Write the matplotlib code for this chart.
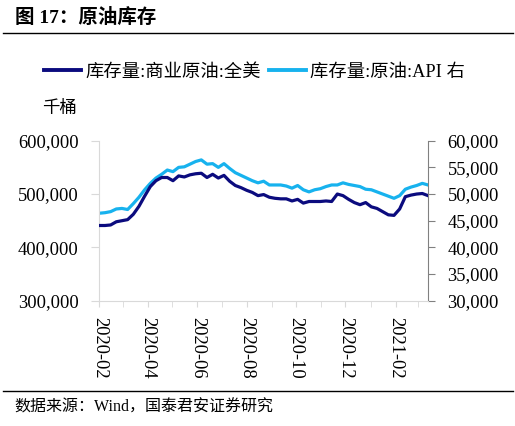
import matplotlib.pyplot as plt
import matplotlib.dates as mdates
import matplotlib.lines as mlines
import numpy as np
import pandas as pd

plt.rcParams['font.family'] = ['Liberation Serif', 'Noto Sans CJK SC']

# semanas (una por viernes aprox.)
fechas = pd.date_range('2020-02-01', periods=59, freq='7D')

# Inventario comercial de crudo EE.UU. (miles de barriles), eje izquierdo
comercial = [441000, 441000, 442000, 448000, 450000, 452000, 462000, 477000, 496000, 514000,
             525000, 531000, 531000, 525000, 534000, 532000, 536000, 538000, 539000, 531000,
             537000, 530000, 535000, 524000, 516000, 512000, 507000, 503000, 497000, 499000,
             494000, 492000, 491000, 491000, 487000, 490000, 483000, 486000, 486000, 486000,
             487000, 486000, 500000, 497000, 490000, 484000, 480000, 484000, 476000, 473000,
             467000, 461000, 460000, 472000, 495000, 498000, 500000, 501000, 497000]

# Inventario API, eje derecho
api = [46400, 46500, 46700, 47200, 47300, 47100, 48200, 49400, 50800, 52000,
       53000, 53700, 54500, 54200, 55000, 55100, 55600, 56100, 56400, 55600,
       55700, 55000, 55700, 54800, 54000, 53500, 53000, 52500, 52100, 52400,
       51700, 51700, 51700, 51500, 51100, 51600, 50800, 50400, 50800, 51000,
       51400, 51700, 51700, 52100, 51800, 51600, 51400, 50900, 50800, 50400,
       50000, 49600, 49200, 49700, 50900, 51300, 51600, 52000, 51700]

nombres = ['库存量:商业原油:全美', '库存量:原油:API 右']
colores = ['#0B0B7E', '#17B2EE']

fig = plt.figure(figsize=(5.15, 4.26), dpi=100)
ax = fig.add_axes([99.3 / 515, 1 - 300.7 / 426, (428 - 99.3) / 515, 160 / 426])
ax2 = ax.twinx()

ax.plot(fechas, comercial, color=colores[0], lw=2.3, zorder=3)
ax2.plot(fechas, api, color=colores[1], lw=2.3)
ax.set_zorder(ax2.get_zorder() + 1)
ax.patch.set_visible(False)

ax.set_xlim(fechas[0], fechas[-1])
ax.set_ylim(300000, 600000)
ax.set_yticks([300000, 400000, 500000, 600000])
ax.yaxis.set_major_formatter(plt.FuncFormatter(lambda v, p: f'{v:,.0f}'))
ax2.set_ylim(30000, 60000)
ax2.set_yticks(np.arange(30000, 60001, 5000))
ax2.yaxis.set_major_formatter(plt.FuncFormatter(lambda v, p: f'{v:,.0f}'))

ax.xaxis.set_major_locator(mdates.MonthLocator(bymonth=[2, 4, 6, 8, 10, 12]))
ax.xaxis.set_minor_locator(mdates.MonthLocator())
ax.xaxis.set_major_formatter(mdates.DateFormatter('%Y-%m'))
for lab in ax.get_xticklabels():
    lab.set_rotation(-90)

for a in (ax, ax2):
    a.spines['top'].set_visible(False)
ax.spines['left'].set_color('#D9D9D9')
ax.spines['bottom'].set_color('#D9D9D9')
ax.spines['right'].set_visible(False)
ax2.spines['left'].set_visible(False)
ax2.spines['bottom'].set_visible(False)
ax2.spines['right'].set_color('#808080')

ax.tick_params(axis='x', which='both', length=4, color='#D9D9D9', labelsize=13.3, pad=8)
ax.tick_params(axis='y', length=6, color='#D9D9D9', labelsize=13.3, pad=9)
ax2.tick_params(axis='y', length=5, color='#808080', labelsize=13.3, pad=9)

# leyenda
handles = [mlines.Line2D([], [], color=c, lw=2.8) for c in colores]
fig.legend(handles, nombres, loc='center left', bbox_to_anchor=(44 / 515, 1 - 72 / 426),
           ncol=2, frameon=False, fontsize=13.2, handlelength=2.0, handletextpad=0.25,
           columnspacing=0.45, borderaxespad=0, borderpad=0)

fig.text(42 / 515, 1 - 109 / 426, '千桶', fontsize=12.5, va='center')

# título y fuente
fig.text(15 / 515, 1 - 17 / 426, '图 17：原油库存', fontsize=14, fontweight='bold', va='center')
fig.add_artist(mlines.Line2D([3 / 515, 513 / 515], [1 - 33 / 426] * 2, color='black', lw=1))
fig.add_artist(mlines.Line2D([3 / 515, 513 / 515], [1 - 391 / 426] * 2, color='black', lw=1))
fig.text(14 / 515, 1 - 408 / 426, '数据来源：Wind，国泰君安证券研究', fontsize=11.5, va='center')

fig.savefig('out.png', dpi=100)
